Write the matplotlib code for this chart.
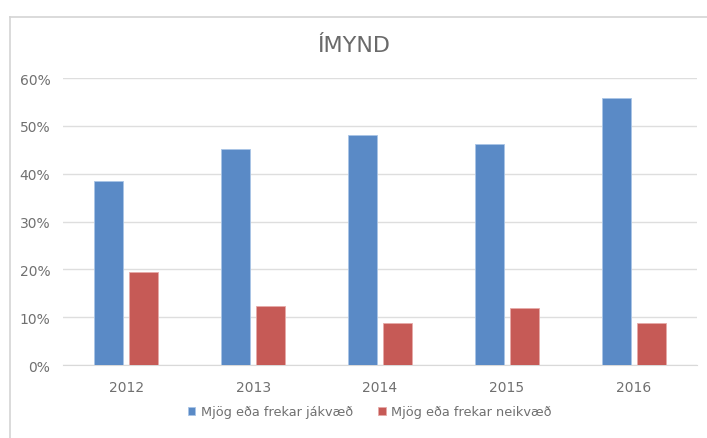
import matplotlib.pyplot as plt
import numpy as np
from matplotlib.ticker import PercentFormatter

# Gögn lesin af myndinni
ar = ['2012', '2013', '2014', '2015', '2016']
jakvaed = [38.4, 45.2, 48.0, 46.2, 55.9]
neikvaed = [19.5, 12.4, 8.9, 12.0, 8.8]
heiti = ['Mjög eða frekar jákvæð', 'Mjög eða frekar neikvæð']

plt.rcParams['font.family'] = ['Liberation Sans Narrow', 'DejaVu Sans']

fig = plt.figure(figsize=(7.07, 4.39), dpi=100)
ax = fig.add_axes([0.089, 0.166, 0.897, 0.654])

# rammi utan um grafið (eins og í Excel)
fig.add_artist(plt.Line2D([10/707, 10/707], [0, 1 - 18/439], color='#d4d4d4', lw=1.2))
fig.add_artist(plt.Line2D([10/707, 1], [1 - 18/439, 1 - 18/439], color='#d4d4d4', lw=1.2))

x = np.arange(len(ar))
b = 0.228
ax.bar(x - 0.138, np.array(jakvaed) / 100, b, color='#5a8ac6',
       edgecolor='#a9c4e6', lw=0.6, label=heiti[0], zorder=3)
ax.bar(x + 0.138, np.array(neikvaed) / 100, b, color='#c65a56',
       edgecolor='#e6aaa8', lw=0.6, label=heiti[1], zorder=3)

ax.set_xlim(-0.5, len(ar) - 0.5)
ax.set_ylim(0, 0.6)
ax.set_yticks(np.arange(0, 0.61, 0.1))
ax.yaxis.set_major_formatter(PercentFormatter(1.0, decimals=0))
ax.set_xticks(x)
ax.set_xticklabels(ar)
ax.grid(axis='y', color='#dedede', lw=1, zorder=0)
for s in ['top', 'right', 'left']:
    ax.spines[s].set_visible(False)
ax.spines['bottom'].set_color('#d9d9d9')
ax.tick_params(axis='both', length=0, colors='#707070', labelsize=10)
ax.tick_params(axis='x', pad=11)
ax.tick_params(axis='y', pad=9)

fig.text(0.5, 1 - 46/439, 'ÍMYND', ha='center', va='center',
         fontsize=16, color='#6a6a6a')

fig.legend(loc='center', bbox_to_anchor=(0.523, 1 - 413/439), ncol=2,
           frameon=False, fontsize=9.3, handlelength=0.55, handleheight=0.55,
           handletextpad=0.4, columnspacing=2.0, labelcolor='#707070')

plt.savefig('out.png', dpi=100)
